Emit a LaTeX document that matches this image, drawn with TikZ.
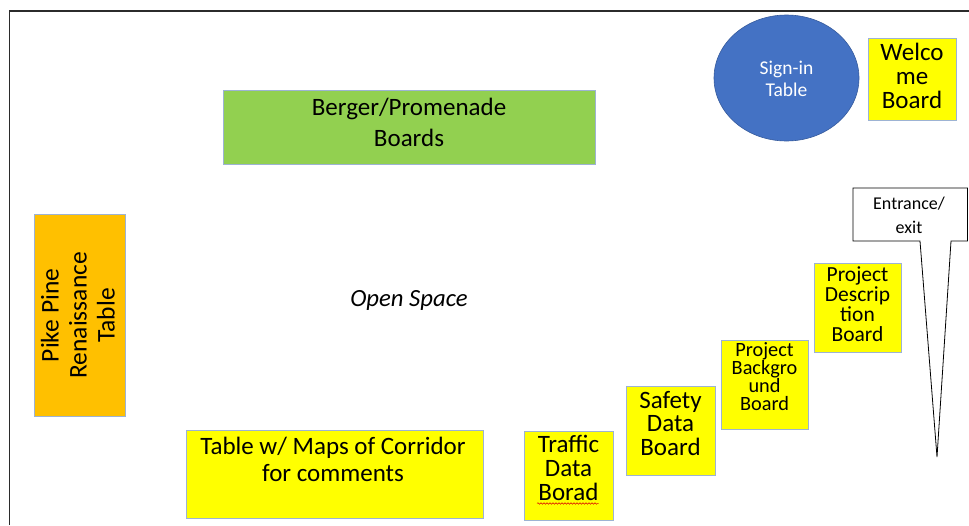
\documentclass[tikz,border=0pt]{standalone}
\usepackage{fontspec}
\setmainfont{Carlito}
\usetikzlibrary{decorations.pathmorphing, shapes.geometric}
\definecolor{boardyellow}{HTML}{FFFF00}
\definecolor{boardgreen}{HTML}{92D050}
\definecolor{tableorange}{HTML}{FFC000}
\definecolor{signblue}{HTML}{4472C4}
\definecolor{edgeblue}{HTML}{9DB3D3}
\definecolor{framegray}{HTML}{2B2B2B}
\tikzset{
  board/.style={draw=edgeblue, line width=0.8pt, inner sep=0pt, anchor=north west},
  yellowboard/.style={board, fill=boardyellow},
  % multi-line labels are placed by the baseline of their last line
  txt/.style={inner sep=0pt, align=center, anchor=base, text=black},
  fs/.style 2 args={font=\fontsize{#1}{#2}\selectfont},
}
\begin{document}
\begin{tikzpicture}[x=1pt, y=-1pt]
  \useasboundingbox (0,0) rectangle (969,525);
  \fill[white] (0,0) rectangle (969,525);

  % room outline (left and top walls)
  \draw[framegray, line width=1.6pt] (9.5,525) -- (9.5,11) -- (969,11);

  % Berger/Promenade boards
  \node[board, fill=boardgreen, minimum width=372pt, minimum height=74pt] (berger) at (223,90) {};
  \node[txt, fs={25}{31}] (bergertxt) at (409,146.7) {Berger/Promenade\\Boards};

  % open floor label
  \node[txt, font=\fontsize{24.7}{28}\selectfont\itshape] (open) at (409,306.7) {Open Space};

  % Pike Pine Renaissance table
  \node[board, fill=tableorange, minimum width=91pt, minimum height=202pt] (pike) at (34,214) {};
  \node[inner sep=0pt, align=center, rotate=90, fs={25.5}{28}] (piketxt) at ([xshift=-2pt]pike.center) {Pike Pine\\Renaissance\\Table};

  % sign-in table
  \node[ellipse, draw=signblue!80!black, line width=0.6pt, fill=signblue, minimum width=145pt, minimum height=126pt, inner sep=0pt] (signin) at (786.5,78) {};
  \node[txt, text=white, fs={19.5}{22.7}] (signtxt) at (786.5,96.7) {Sign-in\\Table};

  % welcome board
  \node[yellowboard, minimum width=88pt, minimum height=82pt] (welcome) at (868,38) {};
  \node[txt, fs={25}{24}] (welcometxt) at (912,108) {Welco\\me\\Board};

  % entrance / exit callout
  \coordinate (door) at (937,457);
  \draw[black, line width=0.8pt, fill=white] (853,188) -- (967.5,188) -- (967.5,241) -- (951,241)
    -- (door) -- (920,241) -- (853,241) -- cycle;
  \node[txt, fs={18}{24}] (entrance) at (909,233) {Entrance/\\exit};

  % project description board
  \node[yellowboard, minimum width=87pt, minimum height=89pt] (desc) at (814,263) {};
  \node[txt, fs={21.5}{20}] (desctxt) at (857.5,341.7) {Project\\Descrip\\tion\\Board};

  % project background board
  \node[yellowboard, minimum width=87pt, minimum height=89pt] (bg) at (721,340) {};
  \node[txt, fs={20.3}{17.8}] (bgtxt) at (764.5,410) {Project\\Backgro\\und\\Board};

  % safety data board
  \node[yellowboard, minimum width=89pt, minimum height=89pt] (safety) at (626,386) {};
  \node[txt, fs={25}{23.4}] (safetytxt) at (670.5,455) {Safety\\Data\\Board};

  % traffic data board
  \node[yellowboard, minimum width=89pt, minimum height=89pt] (traffic) at (524,431) {};
  \node[txt, fs={25}{24}] (traffictxt) at (568.5,500) {Traffic\\Data\\Borad};
  \coordinate (wavyA) at (537,503.5);
  \coordinate (wavyB) at (598.5,503.5);
  \draw[red!85!black, line width=0.5pt, decorate,
        decoration={snake, amplitude=0.8pt, segment length=3pt}] (wavyA) -- (wavyB);

  % map table
  \node[yellowboard, minimum width=297pt, minimum height=88pt] (maps) at (186,430) {};
  \node[txt, fs={25}{27}] (mapstxt) at (333,481) {Table w/ Maps of Corridor\\for comments};
\end{tikzpicture}
\end{document}
